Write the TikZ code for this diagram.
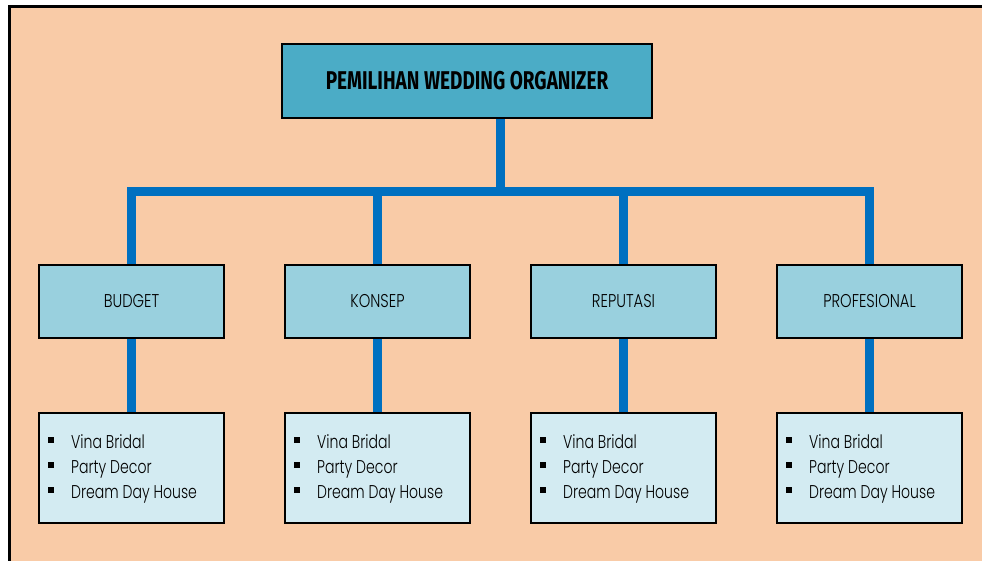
\documentclass[tikz,border=0pt]{standalone}
\usepackage{fontspec}
\setmainfont{Poppins}[UprightFont={* Light}]
\newfontfamily\labelfont{Poppins}[UprightFont={* Light}, FakeStretch=0.795]
\newfontfamily\itemfont{Poppins}[UprightFont={* Light}, FakeStretch=0.76]
\newfontfamily\titlefont{Fira Sans}[UprightFont={* Bold}, FakeStretch=0.74]
\definecolor{peach}{HTML}{F9CBA7}
\definecolor{topfill}{HTML}{4BACC6}
\definecolor{midfill}{HTML}{99D0DE}
\definecolor{lowfill}{HTML}{D3EBF2}
\definecolor{conn}{HTML}{0070C0}
\tikzset{
  box/.style={draw=black, line width=2pt, minimum width=185pt, inner sep=0pt},
  topbox/.style={box, fill=topfill, minimum width=370pt, minimum height=74pt, font=\titlefont\fontsize{25.7}{28}\selectfont},
  midbox/.style={box, fill=midfill, minimum height=73pt, font=\labelfont\fontsize{18.5}{21}\selectfont},
  lowbox/.style={box, fill=lowfill, minimum height=110pt},
  connector/.style={draw=conn, line width=9pt},
  item/.style={anchor=base west, inner sep=0pt, font=\itemfont\fontsize{18.5}{21}\selectfont},
  bullet/.style={fill=black, minimum size=6pt, inner sep=0pt}
}
\begin{document}
\begin{tikzpicture}[x=1pt,y=-1pt]
\useasboundingbox (0,0) rectangle (982,560);
\begin{scope}
\clip (0,0) rectangle (982,560);
\fill[white] (0,0) rectangle (982,560);
\filldraw[fill=peach, draw=black, line width=3pt] (9.5,6.5) rectangle (1000,580);
\end{scope}

\node[topbox] (top) at (467,81) {PEMILIHAN WEDDING ORGANIZER};

\foreach \n/\x/\lab in {1/131.5/BUDGET, 2/377.5/KONSEP, 3/623.5/REPUTASI, 4/869.5/PROFESIONAL}{
  \node[midbox] (m\n) at (\x,301.5) {\lab};
  \node[lowbox] (l\n) at (\x,468) {};
}
\coordinate (j) at (500,191.5);

% connectors
\draw[connector] (top.south -| j) -- (j);
\draw[connector] (m1.north) -- (m1.north |- j) -- (m4.north |- j) -- (m4.north);
\draw[connector] (m2.north) -- (m2.north |- j);
\draw[connector] (m3.north) -- (m3.north |- j);
\foreach \n in {1,2,3,4}{
  \draw[connector] (m\n.south) -- (l\n.north);
}
% redraw boxes over connectors
\node[topbox] at (top) {PEMILIHAN WEDDING ORGANIZER};
\foreach \n/\lab in {1/BUDGET, 2/KONSEP, 3/REPUTASI, 4/PROFESIONAL}{
  \node[midbox] at (m\n) {\lab};
  \node[lowbox] at (l\n) {};
  \node[bullet] (b\n a) at ([xshift=12.5pt,yshift=-28pt]l\n.north west) {};
  \node[bullet] (b\n b) at ([xshift=12.5pt,yshift=-53pt]l\n.north west) {};
  \node[bullet] (b\n c) at ([xshift=12.5pt,yshift=-78pt]l\n.north west) {};
  \node[item] (t\n a) at ([xshift=33pt,yshift=-36pt]l\n.north west) {Vina Bridal};
  \node[item] (t\n b) at ([xshift=33pt,yshift=-61pt]l\n.north west) {Party Decor};
  \node[item] (t\n c) at ([xshift=33pt,yshift=-86pt]l\n.north west) {Dream Day House};
}
\end{tikzpicture}
\end{document}
